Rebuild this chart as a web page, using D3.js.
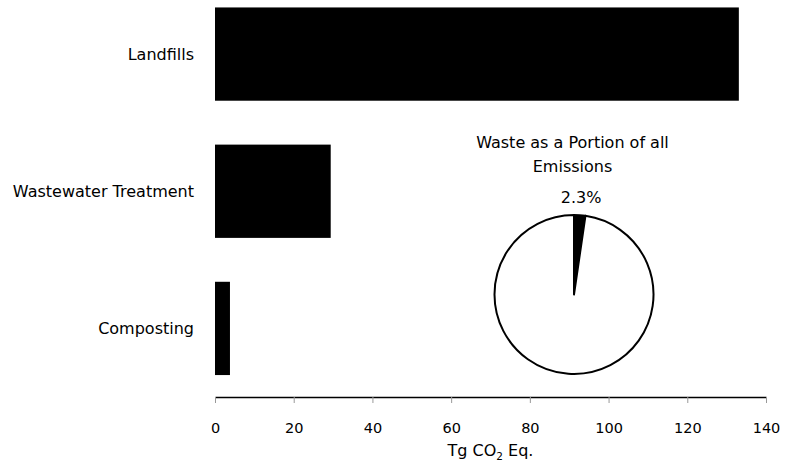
<!DOCTYPE html>
<html>
<head>
<meta charset="utf-8">
<script src="https://cdn.jsdelivr.net/npm/d3@7"></script>
<style>
  body { margin: 0; background: #fff; }
  text { font-family: "DejaVu Sans", sans-serif; fill: #000; }
</style>
</head>
<body>
<svg id="chart" width="785" height="470"></svg>
<script>
// data
const categories = ["Landfills", "Wastewater Treatment", "Composting"];
const emissions = [133.1, 29.4, 3.8];
const xTicks = [0, 20, 40, 60, 80, 100, 120, 140];
const pieLabels = ["Waste", "All Other"];
const pieValues = [2.3, 97.7];

const svg = d3.select("#chart");

// scales
const x = d3.scaleLinear().domain([0, 140]).range([215, 766]);
const y = d3.scaleBand()
    .domain(categories)
    .range([-14.5, 397])
    .paddingInner(0.32)
    .paddingOuter(0.16);

// bars
svg.selectAll("rect.bar")
    .data(categories)
    .enter()
    .append("rect")
    .attr("class", "bar")
    .attr("x", x(0))
    .attr("y", (d) => y(d))
    .attr("width", (d, i) => x(emissions[i]) - x(0))
    .attr("height", y.bandwidth())
    .attr("fill", "#000");

// category labels
svg.selectAll("text.cat")
    .data(categories)
    .enter()
    .append("text")
    .attr("class", "cat")
    .attr("x", 194)
    .attr("y", (d) => y(d) + y.bandwidth() / 2)
    .attr("dy", "0.36em")
    .attr("text-anchor", "end")
    .style("font-size", "16px")
    .text((d) => d);

// x axis
const axis = svg.append("g")
    .attr("transform", "translate(0,397)")
    .call(d3.axisBottom(x).tickValues(xTicks).tickSize(6).tickSizeOuter(0).tickPadding(20));

axis.select(".domain").attr("stroke", "#000").attr("stroke-width", 1.5);
axis.selectAll(".tick line").attr("stroke", "#999").attr("stroke-width", 1);
axis.selectAll(".tick text")
    .style("font-family", "DejaVu Sans, sans-serif")
    .style("font-size", "14.5px")
    .attr("fill", "#000");

// axis title
const title = svg.append("text")
    .attr("x", (x(0) + x(140)) / 2)
    .attr("y", 456)
    .attr("text-anchor", "middle")
    .style("font-size", "16px");
title.append("tspan").text("Tg CO");
title.append("tspan").attr("dy", 4).style("font-size", "10.5px").text("2");
title.append("tspan").attr("dy", -4).text(" Eq.");

// pie
const cx = 574, cy = 294.5, r = 79.5;
const pie = d3.pie().sort(null).value((d) => d);
const arcs = pie(pieValues);
const arc = d3.arc().innerRadius(0).outerRadius(r);
const labelArc = d3.arc().innerRadius(98).outerRadius(98);

const pg = svg.append("g").attr("transform", `translate(${cx},${cy})`);

pg.selectAll("path")
    .data(arcs)
    .enter()
    .append("path")
    .attr("d", arc)
    .attr("fill", (d, i) => (i === 0 ? "#000" : "#fff"))
    .attr("stroke", "#000")
    .attr("stroke-width", 2)
    .attr("stroke-linejoin", "round");

pg.append("text")
    .attr("x", labelArc.centroid(arcs[0])[0])
    .attr("y", labelArc.centroid(arcs[0])[1])
    .attr("dy", "0.36em")
    .attr("text-anchor", "middle")
    .style("font-size", "16px")
    .text(pieValues[0] + "%");

// pie title
svg.append("text")
    .attr("x", 572.5)
    .attr("y", 148)
    .attr("text-anchor", "middle")
    .style("font-size", "16px")
    .text("Waste as a Portion of all");

svg.append("text")
    .attr("x", 572.5)
    .attr("y", 171.5)
    .attr("text-anchor", "middle")
    .style("font-size", "16px")
    .text("Emissions");
</script>
</body>
</html>
